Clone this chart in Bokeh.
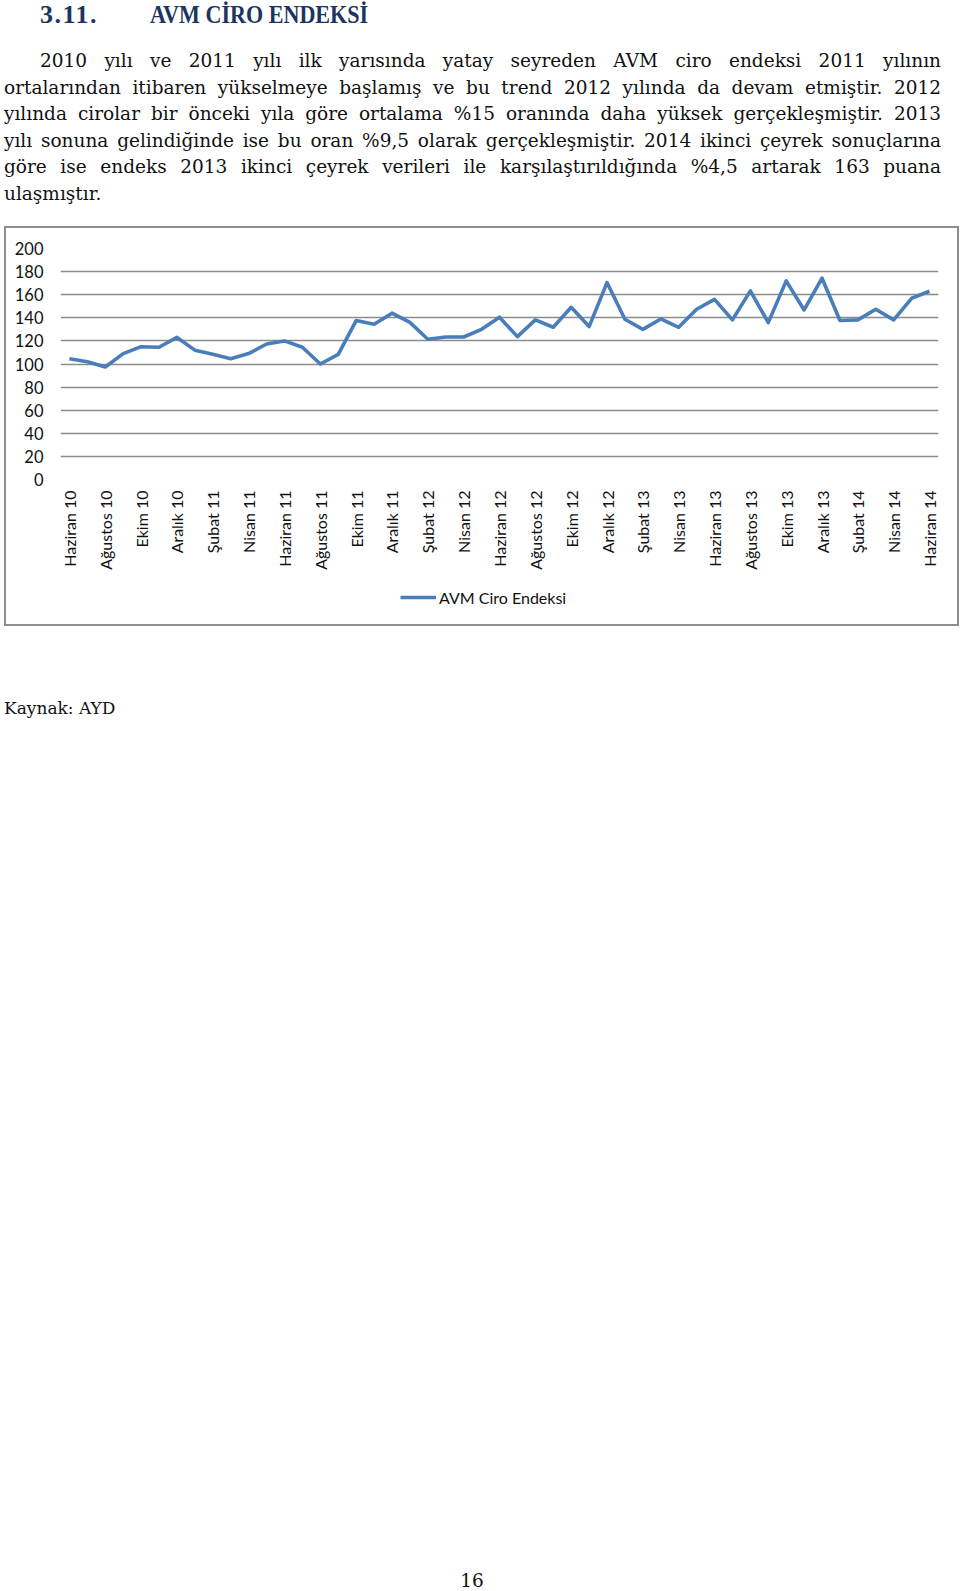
import math
from bokeh.plotting import figure
from bokeh.models import (Div, FixedTicker, SingleIntervalTicker, Legend, LegendItem,
                          ColumnDataSource, Range1d)
from bokeh.layouts import column, row
from bokeh.embed import file_html
from bokeh.resources import INLINE

# ---------------- data ----------------
tick_labels = ["Haziran 10", "Ağustos 10", "Ekim 10", "Aralık 10", "Şubat 11", "Nisan 11",
               "Haziran 11", "Ağustos 11", "Ekim 11", "Aralık 11", "Şubat 12", "Nisan 12",
               "Haziran 12", "Ağustos 12", "Ekim 12", "Aralık 12", "Şubat 13", "Nisan 13",
               "Haziran 13", "Ağustos 13", "Ekim 13", "Aralık 13", "Şubat 14", "Nisan 14",
               "Haziran 14"]
# monthly index, June 2010 .. June 2014
values = [104.5, 102, 97.4, 109, 115, 114.5, 123, 112, 108.4, 104.6,
          109, 117.3, 120, 114.5, 100, 108.4, 137.6, 134.4, 144, 136,
          121.4, 123.4, 123.4, 130, 140.5, 123.7, 138.2, 131.8, 149.1, 132.4,
          170.5, 138.7, 130, 139, 131.8, 147.4, 156, 138.2, 163.3, 135.8,
          172, 146.8, 174.3, 137.6, 138.2, 147.4, 138.2, 156.9, 163]
series_name = "AVM Ciro Endeksi"

heading_num = "3.11."
heading_text = "AVM CİRO ENDEKSİ"
para_lines = [
    "2010 yılı ve 2011 yılı ilk yarısında yatay seyreden AVM ciro endeksi 2011 yılının",
    "ortalarından itibaren yükselmeye başlamış ve bu trend 2012 yılında da devam etmiştir. 2012",
    "yılında cirolar bir önceki yıla göre ortalama %15 oranında daha yüksek gerçekleşmiştir. 2013",
    "yılı sonuna gelindiğinde ise bu oran %9,5 olarak gerçekleşmiştir. 2014 ikinci çeyrek sonuçlarına",
    "göre ise endeks 2013 ikinci çeyrek verileri ile karşılaştırıldığında %4,5 artarak 163 puana",
    "ulaşmıştır.",
]
source_text = "Kaynak: AYD"
page_number = "16"

BORDER = "#8e8e8e"
LINE_COLOR = "#4A7EBB"

# ---------------- top text ----------------
serif = "'DejaVu Serif', 'Liberation Serif', serif"
head_font = "'Liberation Serif', serif"
lines_html = ""
for i, ln in enumerate(para_lines):
    last = (i == len(para_lines) - 1)
    indent = "36px" if i == 0 else "0px"
    align = "left" if last else "justify"
    lines_html += (f'<div style="text-align:{align};text-align-last:{align};'
                   f'padding-left:{indent};height:26.6px;line-height:26.6px;">{ln}</div>')

top_html = f"""
<div style="position:relative;width:960px;height:228px;font-family:{serif};color:#111;">
  <div style="position:absolute;left:40px;top:0px;height:30px;line-height:30px;font-size:26px;
              font-family:{head_font};font-weight:bold;color:#1b3560;white-space:nowrap;
              letter-spacing:1.5px;">{heading_num}</div>
  <div style="position:absolute;left:150px;top:0px;height:30px;line-height:30px;font-size:26px;
              font-family:{head_font};font-weight:bold;color:#1b3560;white-space:nowrap;
              transform:scaleX(0.85);transform-origin:0 0;">{heading_text}</div>
  <div style="position:absolute;left:4px;top:48px;width:937px;font-size:18.5px;">
    {lines_html}
  </div>
  <div style="position:absolute;left:4px;top:226px;width:955px;height:2px;background:{BORDER};"></div>
</div>
"""
top_div = Div(text=top_html, width=960, height=228, margin=(0, 0, 0, 0))

# ---------------- chart ----------------
x = list(range(len(values)))
src = ColumnDataSource(dict(x=x, y=values))

CH = 396          # full box height (inside top/bottom border lines)
LH = 46           # legend strip height
PH = CH - LH      # main plot height

p = figure(width=951, height=PH, output_backend="svg", toolbar_location=None,
           x_range=Range1d(-0.5, len(values) - 0.5), y_range=Range1d(0, 200),
           min_border_left=54, min_border_right=19, min_border_top=20, min_border_bottom=99,
           margin=(0, 0, 0, 0))
p.outline_line_color = None
p.background_fill_color = "white"
p.border_fill_color = "white"

r = p.line("x", "y", source=src, line_color=LINE_COLOR, line_width=3.6, line_join="round")

font = "Lato"
p.yaxis.ticker = SingleIntervalTicker(interval=20, num_minor_ticks=0)
p.yaxis.axis_line_color = None
p.yaxis.major_tick_line_color = None
p.yaxis.minor_tick_line_color = None
p.yaxis.major_tick_out = 0
p.yaxis.major_tick_in = 0
p.yaxis.major_label_standoff = 17
p.yaxis.major_label_text_font = font
p.yaxis.major_label_text_font_size = "16.5px"
p.yaxis.major_label_text_color = "#111111"

tick_pos = list(range(0, len(values), 2))
p.xaxis.ticker = FixedTicker(ticks=tick_pos)
p.xaxis.major_label_overrides = {t: lbl for t, lbl in zip(tick_pos, tick_labels)}
p.xaxis.major_label_orientation = math.pi / 2
p.xaxis.axis_line_color = None
p.xaxis.major_tick_line_color = None
p.xaxis.minor_tick_line_color = None
p.xaxis.major_tick_out = 0
p.xaxis.major_tick_in = 0
p.xaxis.major_label_standoff = 11
p.xaxis.major_label_text_font = font
p.xaxis.major_label_text_font_size = "16px"
p.xaxis.major_label_text_color = "#111111"

p.xgrid.grid_line_color = None
p.ygrid.grid_line_color = "#8c8c8c"
p.ygrid.grid_line_width = 1.3

# legend strip: a small plot holding only the legend (series drawn out of view there)
pl = figure(width=951, height=LH, output_backend="svg", toolbar_location=None,
            x_range=Range1d(-0.5, len(values) - 0.5), y_range=Range1d(1000, 1001),
            x_axis_type=None, y_axis_type=None,
            min_border_left=0, min_border_right=0, min_border_top=0, min_border_bottom=0,
            margin=(0, 0, 0, 0))
pl.outline_line_color = None
pl.xgrid.grid_line_color = None
pl.ygrid.grid_line_color = None
pl.background_fill_color = "white"
pl.border_fill_color = "white"
r_leg = pl.line("x", "y", source=src, line_color=LINE_COLOR, line_width=3.6)

legend = Legend(items=[LegendItem(label=series_name, renderers=[r_leg])],
                location=(340, 17), orientation="horizontal",
                border_line_color=None, background_fill_alpha=0,
                padding=0, margin=0, glyph_width=36, glyph_height=20,
                label_standoff=3, label_text_font=font, label_text_font_size="16px",
                label_text_color="#111111")
pl.add_layout(legend)

side_html = f'<div style="width:2px;height:{CH}px;background:{BORDER};"></div>'
left_border = Div(text=side_html, width=2, height=CH, margin=(0, 0, 0, 4))
right_border = Div(text=side_html, width=2, height=CH, margin=(0, 0, 0, 0))
chart_row = row(left_border, column(p, pl, spacing=0), right_border, spacing=0)

# ---------------- bottom text ----------------
BH = 1591 - 228 - CH
bottom_html = f"""
<div style="position:relative;width:960px;height:{BH}px;font-family:{serif};color:#111;font-size:18.5px;">
  <div style="position:absolute;left:4px;top:0px;width:955px;height:2px;background:{BORDER};"></div>
  <div style="position:absolute;left:4px;top:72px;line-height:24px;font-size:17px;">{source_text}</div>
  <div style="position:absolute;left:446px;top:945px;line-height:24px;width:52px;text-align:center;">{page_number}</div>
</div>
"""
bottom_div = Div(text=bottom_html, width=960, height=BH, margin=(0, 0, 0, 0))

layout = column(top_div, chart_row, bottom_div, spacing=0)
open("out.html", "w").write(file_html(layout, INLINE))
